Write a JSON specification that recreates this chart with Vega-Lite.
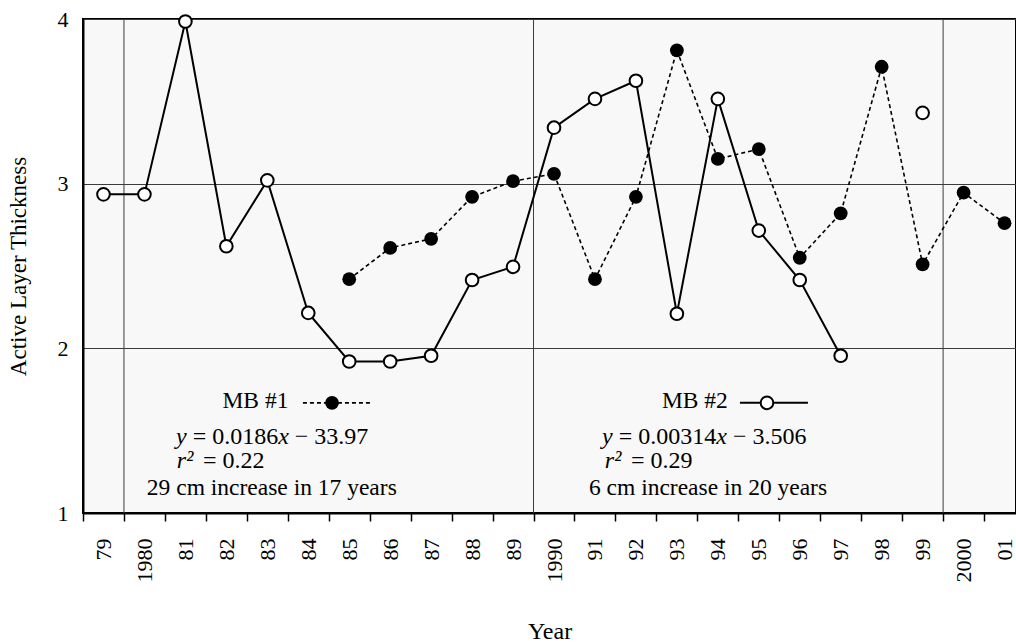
{
  "$schema": "https://vega.github.io/schema/vega-lite/v6.json",
  "width": 933,
  "height": 494,
  "autosize": {"type": "none"},
  "padding": {"left": 83, "top": 19, "right": 0, "bottom": 131},
  "background": "white",
  "config": {
    "font": "Liberation Serif",
    "view": {"fill": "#f8f8f8", "stroke": "black", "strokeWidth": 2}
  },
  "datasets": {
    "obs": [
      {"site": "MB #1", "run": "a", "year": 1985, "value": 2.42},
      {"site": "MB #1", "run": "a", "year": 1986, "value": 2.61},
      {"site": "MB #1", "run": "a", "year": 1987, "value": 2.665},
      {"site": "MB #1", "run": "a", "year": 1988, "value": 2.92},
      {"site": "MB #1", "run": "a", "year": 1989, "value": 3.015},
      {"site": "MB #1", "run": "a", "year": 1990, "value": 3.06},
      {"site": "MB #1", "run": "a", "year": 1991, "value": 2.42},
      {"site": "MB #1", "run": "a", "year": 1992, "value": 2.92},
      {"site": "MB #1", "run": "a", "year": 1993, "value": 3.81},
      {"site": "MB #1", "run": "a", "year": 1994, "value": 3.15},
      {"site": "MB #1", "run": "a", "year": 1995, "value": 3.21},
      {"site": "MB #1", "run": "a", "year": 1996, "value": 2.55},
      {"site": "MB #1", "run": "a", "year": 1997, "value": 2.82},
      {"site": "MB #1", "run": "a", "year": 1998, "value": 3.71},
      {"site": "MB #1", "run": "a", "year": 1999, "value": 2.51},
      {"site": "MB #1", "run": "a", "year": 2000, "value": 2.945},
      {"site": "MB #1", "run": "a", "year": 2001, "value": 2.76},
      {"site": "MB #2", "run": "a", "year": 1979, "value": 2.935},
      {"site": "MB #2", "run": "a", "year": 1980, "value": 2.935},
      {"site": "MB #2", "run": "a", "year": 1981, "value": 3.985},
      {"site": "MB #2", "run": "a", "year": 1982, "value": 2.62},
      {"site": "MB #2", "run": "a", "year": 1983, "value": 3.02},
      {"site": "MB #2", "run": "a", "year": 1984, "value": 2.215},
      {"site": "MB #2", "run": "a", "year": 1985, "value": 1.92},
      {"site": "MB #2", "run": "a", "year": 1986, "value": 1.92},
      {"site": "MB #2", "run": "a", "year": 1987, "value": 1.955},
      {"site": "MB #2", "run": "a", "year": 1988, "value": 2.415},
      {"site": "MB #2", "run": "a", "year": 1989, "value": 2.495},
      {"site": "MB #2", "run": "a", "year": 1990, "value": 3.34},
      {"site": "MB #2", "run": "a", "year": 1991, "value": 3.515},
      {"site": "MB #2", "run": "a", "year": 1992, "value": 3.625},
      {"site": "MB #2", "run": "a", "year": 1993, "value": 2.21},
      {"site": "MB #2", "run": "a", "year": 1994, "value": 3.515},
      {"site": "MB #2", "run": "a", "year": 1995, "value": 2.715},
      {"site": "MB #2", "run": "a", "year": 1996, "value": 2.415},
      {"site": "MB #2", "run": "a", "year": 1997, "value": 1.955},
      {"site": "MB #2", "run": "b", "year": 1999, "value": 3.43}
    ],
    "decades": [
      {"year": 1979.5, "value": 1, "value2": 4},
      {"year": 1989.5, "value": 1, "value2": 4},
      {"year": 1999.5, "value": 1, "value2": 4}
    ],
    "keylines": [
      {"site": "MB #1", "year": 1983.87, "year2": 1985.58, "value": 1.669},
      {"site": "MB #2", "year": 1994.54, "year2": 1996.2, "value": 1.669}
    ],
    "keypts": [
      {"site": "MB #1", "year": 1984.58, "value": 1.669},
      {"site": "MB #2", "year": 1995.2, "value": 1.669}
    ],
    "notes": [
      {"kind": "head", "year": 1982.71, "value": 1.681, "text": "MB #1"},
      {"kind": "eqi", "year": 1980.77, "value": 1.462, "text": "y"},
      {"kind": "eq", "year": 1981.18, "value": 1.462, "text": "= 0.0186"},
      {"kind": "eqi", "year": 1983.27, "value": 1.462, "text": "x"},
      {"kind": "eq", "year": 1983.67, "value": 1.462, "text": "− 33.97"},
      {"kind": "eqi", "year": 1980.79, "value": 1.316, "text": "r²"},
      {"kind": "eq", "year": 1981.43, "value": 1.316, "text": "= 0.22"},
      {"kind": "note", "year": 1983.11, "value": 1.152, "text": "29 cm increase in 17 years"},
      {"kind": "head", "year": 1993.44, "value": 1.681, "text": "MB #2"},
      {"kind": "eqi", "year": 1991.17, "value": 1.462, "text": "y"},
      {"kind": "eq", "year": 1991.58, "value": 1.462, "text": "= 0.00314"},
      {"kind": "eqi", "year": 1993.96, "value": 1.462, "text": "x"},
      {"kind": "eq", "year": 1994.37, "value": 1.462, "text": "− 3.506"},
      {"kind": "eqi", "year": 1991.24, "value": 1.316, "text": "r²"},
      {"kind": "eq", "year": 1991.88, "value": 1.316, "text": "= 0.29"},
      {"kind": "note", "year": 1993.76, "value": 1.152, "text": "6 cm increase in 20 years"}
    ]
  },
  "encoding": {
    "x": {
      "field": "year",
      "type": "quantitative",
      "scale": {"domain": [1978.5, 2001.28], "nice": false, "zero": false},
      "axis": {
        "title": "Year",
        "titleFont": "Liberation Serif",
        "titleFontSize": 24,
        "titleFontWeight": "normal",
        "titleColor": "black",
        "titlePadding": 37,
        "values": [1978.5, 1979.5, 1980.5, 1981.5, 1982.5, 1983.5, 1984.5, 1985.5, 1986.5, 1987.5, 1988.5, 1989.5, 1990.5, 1991.5, 1992.5, 1993.5, 1994.5, 1995.5, 1996.5, 1997.5, 1998.5, 1999.5, 2000.5],
        "labelExpr": "((datum.value + 0.5) % 10 == 0) ? toString(datum.value + 0.5) : substring(toString(datum.value + 0.5), 2)",
        "labelAngle": -90,
        "labelAlign": "right",
        "labelBaseline": "middle",
        "labelOffset": 20.5,
        "labelFont": "Liberation Serif",
        "labelFontSize": 22,
        "labelColor": "black",
        "labelPadding": 17,
        "labelFlush": false,
        "labelOverlap": false,
        "labelBound": false,
        "tickSize": 8,
        "tickColor": "black",
        "tickWidth": 1.5,
        "domainColor": "black",
        "domainWidth": 2,
        "grid": false
      }
    },
    "y": {
      "field": "value",
      "type": "quantitative",
      "scale": {"domain": [1, 4], "nice": false, "zero": false},
      "axis": {
        "title": "Active Layer Thickness",
        "titleFont": "Liberation Serif",
        "titleFontSize": 23,
        "titleFontWeight": "normal",
        "titleColor": "black",
        "titlePadding": 27,
        "values": [1, 2, 3, 4],
        "format": "d",
        "labelFont": "Liberation Serif",
        "labelFontSize": 22,
        "labelColor": "black",
        "labelPadding": 15,
        "ticks": false,
        "domainColor": "black",
        "domainWidth": 2,
        "grid": true,
        "gridColor": "#3c3c3c",
        "gridWidth": 1
      }
    }
  },
  "layer": [
    {
      "data": {"name": "decades"},
      "mark": {"type": "rule", "color": "#3c3c3c", "strokeWidth": 1},
      "encoding": {"y2": {"field": "value2"}}
    },
    {
      "data": {"name": "obs"},
      "transform": [{"filter": "datum.site == 'MB #1'"}],
      "mark": {"type": "line", "color": "black", "strokeWidth": 1.6, "strokeDash": [4, 3]},
      "encoding": {"detail": {"field": "run"}}
    },
    {
      "data": {"name": "obs"},
      "transform": [{"filter": "datum.site == 'MB #2'"}],
      "mark": {"type": "line", "color": "black", "strokeWidth": 2},
      "encoding": {"detail": {"field": "run"}}
    },
    {
      "data": {"name": "keylines"},
      "transform": [{"filter": "datum.site == 'MB #1'"}],
      "mark": {"type": "rule", "color": "black", "strokeWidth": 1.6, "strokeDash": [4, 3]},
      "encoding": {"x2": {"field": "year2"}}
    },
    {
      "data": {"name": "keylines"},
      "transform": [{"filter": "datum.site == 'MB #2'"}],
      "mark": {"type": "rule", "color": "black", "strokeWidth": 2},
      "encoding": {"x2": {"field": "year2"}}
    },
    {
      "data": {"name": "obs"},
      "transform": [{"filter": "datum.site == 'MB #1'"}],
      "mark": {"type": "point", "shape": "circle", "filled": true, "color": "black", "size": 190, "opacity": 1}
    },
    {
      "data": {"name": "keypts"},
      "transform": [{"filter": "datum.site == 'MB #1'"}],
      "mark": {"type": "point", "shape": "circle", "filled": true, "color": "black", "size": 190, "opacity": 1}
    },
    {
      "data": {"name": "obs"},
      "transform": [{"filter": "datum.site == 'MB #2'"}],
      "mark": {"type": "point", "shape": "circle", "filled": true, "fill": "white", "stroke": "black", "strokeWidth": 2, "size": 160, "opacity": 1}
    },
    {
      "data": {"name": "keypts"},
      "transform": [{"filter": "datum.site == 'MB #2'"}],
      "mark": {"type": "point", "shape": "circle", "filled": true, "fill": "white", "stroke": "black", "strokeWidth": 2, "size": 160, "opacity": 1}
    },
    {
      "data": {"name": "notes"},
      "transform": [{"filter": "datum.kind == 'eq'"}],
      "mark": {"type": "text", "font": "Liberation Serif", "fontSize": 24, "color": "black", "align": "left", "baseline": "middle"},
      "encoding": {"text": {"field": "text"}}
    },
    {
      "data": {"name": "notes"},
      "transform": [{"filter": "datum.kind == 'eqi'"}],
      "mark": {"type": "text", "font": "Liberation Serif", "fontStyle": "italic", "fontSize": 24, "color": "black", "align": "left", "baseline": "middle"},
      "encoding": {"text": {"field": "text"}}
    },
    {
      "data": {"name": "notes"},
      "transform": [{"filter": "datum.kind == 'head' || datum.kind == 'note'"}],
      "mark": {"type": "text", "font": "Liberation Serif", "fontSize": 23.5, "color": "black", "align": "center", "baseline": "middle"},
      "encoding": {"text": {"field": "text"}}
    }
  ]
}
